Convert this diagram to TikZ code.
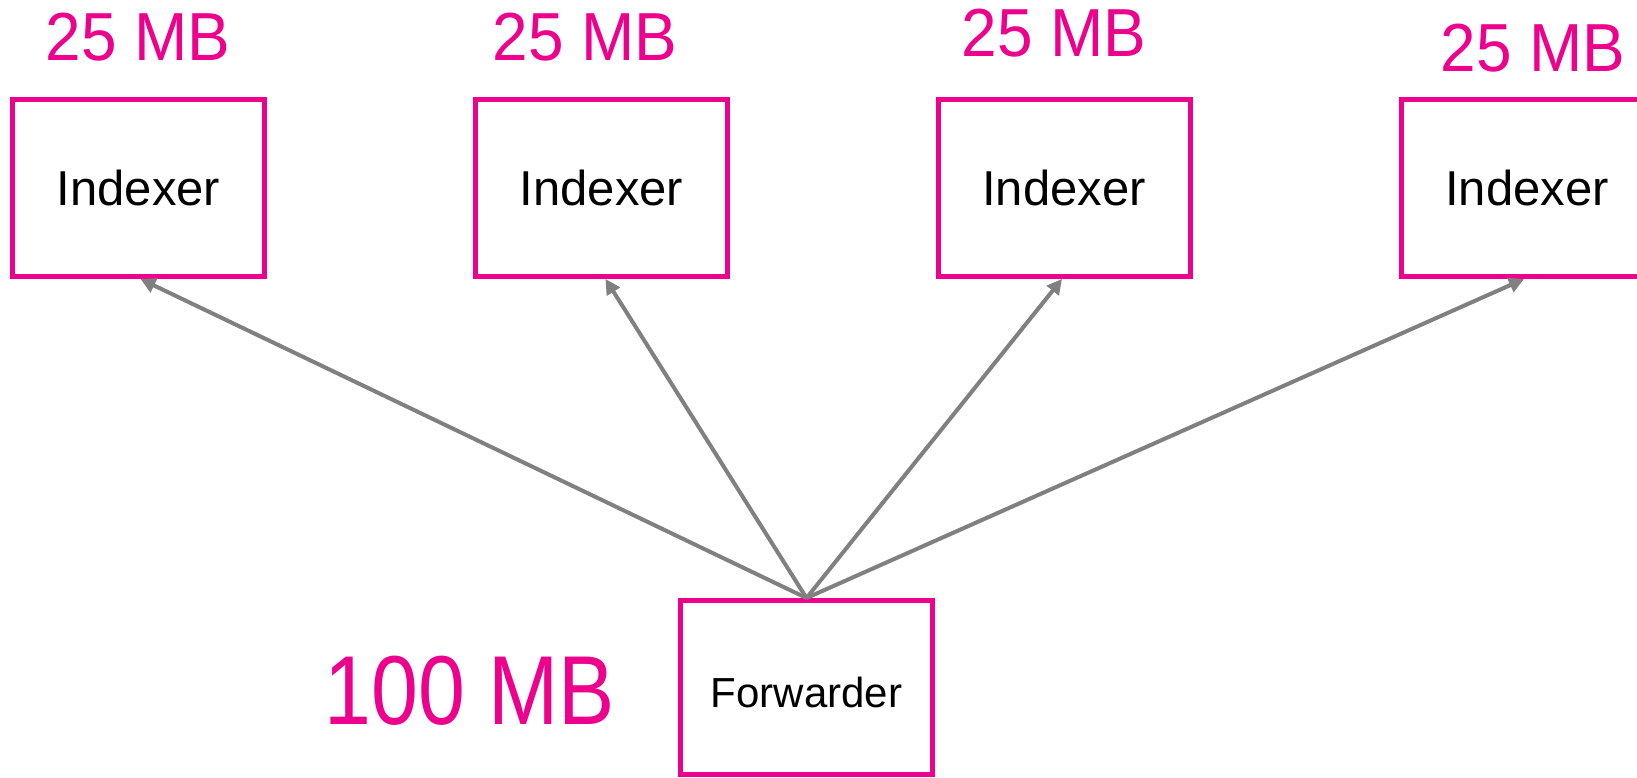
\documentclass[tikz,border=0pt]{standalone}
\usepackage{fontspec}
\setmainfont{Liberation Sans}
\usetikzlibrary{arrows.meta}
\definecolor{mag}{RGB}{236,0,140}
\definecolor{arr}{RGB}{128,128,128}
\newcommand{\mbtext}[1]{\scalebox{0.94}[1]{#1}}
\newcommand{\bigmbtext}[1]{\scalebox{0.86}[1]{#1}}
\tikzset{
  ibox/.style={draw=mag, line width=5pt, minimum width=252pt, minimum height=177pt, inner sep=0pt, font=\fontsize{49}{55}\selectfont},
  fbox/.style={draw=mag, line width=5pt, minimum width=252pt, minimum height=174pt, inner sep=0pt, font=\fontsize{42}{48}\selectfont},
  mblab/.style={text=mag, inner sep=0pt, font=\fontsize{68}{76}\selectfont},
  biglab/.style={text=mag, inner sep=0pt, font=\fontsize{98}{110}\selectfont},
  conn/.style={draw=arr, line width=4pt, -{Triangle[length=15pt,width=15pt]}}
}
\begin{document}
\begin{tikzpicture}[x=1pt,y=-1pt]
\useasboundingbox (0,0) rectangle (1637,778);
\clip (0,0) rectangle (1637,778);
\fill[white] (0,0) rectangle (1637,778);
\node[ibox] (i1) at (138.5,188) {Indexer};
\node[ibox] (i2) at (601.5,188) {Indexer};
\node[ibox] (i3) at (1064,188) {Indexer};
\node[ibox] (i4) at (1527,188) {Indexer};
\node[fbox] (f) at (806.5,687.5) {};
\node[inner sep=0pt, font=\fontsize{42}{48}\selectfont] (ft) at (806.5,692) {Forwarder};
\node[mblab] (l1) at (138,37) {\mbtext{25 MB}};
\node[mblab] (l2) at (585,37) {\mbtext{25 MB}};
\node[mblab] (l3) at (1054,33) {\mbtext{25 MB}};
\node[mblab] (l4) at (1533,48) {\mbtext{25 MB}};
\node[biglab] (l5) at (470,691) {\bigmbtext{100 MB}};
\coordinate (src) at (f.north);
\draw[conn] (src) -- ([xshift=2pt]i1.south);
\draw[conn] (src) -- ([xshift=4pt]i2.south);
\draw[conn] (src) -- ([xshift=-2pt]i3.south);
\draw[conn] (src) -- ([xshift=-3pt]i4.south);
\end{tikzpicture}
\end{document}
